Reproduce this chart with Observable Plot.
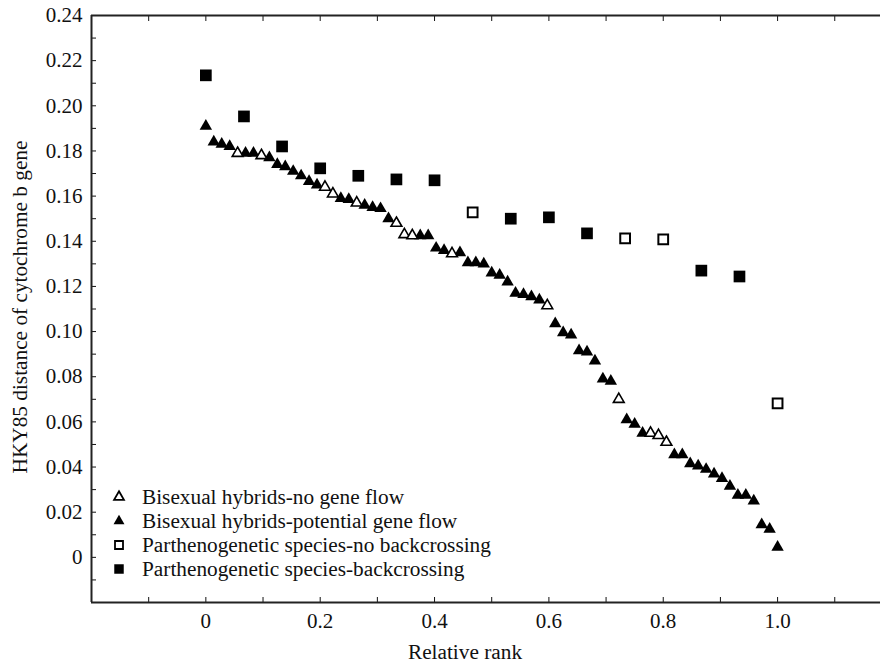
<!DOCTYPE html>
<html>
<head>
<meta charset="utf-8">
<script src="https://cdn.jsdelivr.net/npm/d3@7"></script>
<script src="https://cdn.jsdelivr.net/npm/@observablehq/plot@0.6"></script>
<style>
  html, body { margin: 0; padding: 0; background: #fff; overflow: hidden; }
  #chart { position: relative; width: 880px; height: 664px; font-family: "Liberation Serif", "Times New Roman", serif; color: #111; }
  #legend { position: absolute; left: 108px; top: 485px; font-size: 21.3px; line-height: 24px; }
  .row { display: flex; align-items: center; height: 24px; white-space: nowrap; }
  .row svg { width: 22px; height: 24px; margin-right: 12px; flex: none; }
  .title { position: absolute; font-size: 21.3px; line-height: 22px; white-space: nowrap; }
  #xtitle { left: 465px; top: 641px; transform: translateX(-50%); }
  #ytitle { left: 20px; top: 307px; transform: translate(-50%, -50%) rotate(-90deg); }
</style>
</head>
<body>
<div id="chart">
  <div id="legend"></div>
  <div class="title" id="xtitle"></div>
  <div class="title" id="ytitle"></div>
</div>
<script>
// Bisexual hybrids: rank position (0-based, among all 73 hybrids) and HKY85 distance
const flowRank = [0, 1, 2, 3, 5, 6, 8, 9, 10, 11, 12, 13, 14, 17, 18, 20, 21, 22, 23,
  27, 28, 29, 30, 32, 33, 34, 35, 36, 37, 38, 39, 40, 41, 42, 44, 45, 46, 47, 48, 49, 50, 51,
  53, 54, 55, 59, 60, 61, 62, 63, 64, 65, 66, 67, 68, 69, 70, 71, 72];
const flowDist = [0.191, 0.184, 0.183, 0.182, 0.179, 0.179, 0.177, 0.174, 0.173, 0.171, 0.169, 0.1665, 0.165,
  0.159, 0.1585, 0.156, 0.155, 0.1545, 0.150,
  0.1425, 0.1425, 0.137, 0.136, 0.135, 0.1305, 0.1305, 0.130, 0.126, 0.125, 0.122, 0.117, 0.1165, 0.1155, 0.114,
  0.1035, 0.0995, 0.0985, 0.0915, 0.091, 0.087, 0.079, 0.078,
  0.061, 0.059, 0.055, 0.0455, 0.0455, 0.0415, 0.0405, 0.039, 0.037, 0.035, 0.0315, 0.0275, 0.0275, 0.025,
  0.0145, 0.0125, 0.0045];
const noFlowRank = [4, 7, 15, 16, 19, 24, 25, 26, 31, 43, 52, 56, 57, 58];
const noFlowDist = [0.179, 0.178, 0.164, 0.161, 0.157, 0.148, 0.143, 0.1425, 0.1345, 0.1115, 0.070, 0.055, 0.054, 0.051];

// Parthenogenetic species: rank position (0-based, among all 16 species) and distance
const backRank = [0, 1, 2, 3, 4, 5, 6, 8, 9, 10, 13, 14];
const backDist = [0.2135, 0.1953, 0.182, 0.1723, 0.169, 0.1674, 0.167, 0.150, 0.1506, 0.1435, 0.127, 0.1244];
const noBackRank = [7, 11, 12, 15];
const noBackDist = [0.1528, 0.1413, 0.1408, 0.0682];

// Axis ticks
const yLabelTicks = [0, 0.02, 0.04, 0.06, 0.08, 0.10, 0.12, 0.14, 0.16, 0.18, 0.20, 0.22, 0.24];
const yMinorTicks = [-0.01, 0.01, 0.03, 0.05, 0.07, 0.09, 0.11, 0.13, 0.15, 0.17, 0.19, 0.21, 0.23];
const xLabelTicks = [0, 0.2, 0.4, 0.6, 0.8, 1.0];
const xMinorTicks = [-0.1, 0.1, 0.3, 0.5, 0.7, 0.9, 1.1];

const xTitle = "Relative rank";
const yTitle = "HKY85 distance of cytochrome b gene";
const legendLabels = [
  "Bisexual hybrids-no gene flow",
  "Bisexual hybrids-potential gene flow",
  "Parthenogenetic species-no backcrossing",
  "Parthenogenetic species-backcrossing"
];

const nHybrids = flowRank.length + noFlowRank.length;
const nSpecies = backRank.length + noBackRank.length;
const toRows = (ranks, dists, n) => ranks.map((r, i) => ({rank: r / (n - 1), dist: dists[i]}));

const flow = toRows(flowRank, flowDist, nHybrids);
const noFlow = toRows(noFlowRank, noFlowDist, nHybrids);
const back = toRows(backRank, backDist, nSpecies);
const noBack = toRows(noBackRank, noBackDist, nSpecies);

const fmtY = d => d === 0 ? "0" : d.toFixed(2);
const fmtX = d => d === 0 ? "0" : d.toFixed(1);
const ink = "#111";

const chart = Plot.plot({
  width: 880,
  height: 664,
  marginLeft: 91,
  marginRight: 0,
  marginTop: 15,
  marginBottom: 62,
  style: {fontFamily: "'Liberation Serif', 'Times New Roman', serif", fontSize: "21px", color: ink, background: "white"},
  x: {domain: [-0.2, 1.18]},
  y: {domain: [-0.02, 0.24]},
  marks: [
    Plot.axisY(yLabelTicks, {anchor: "left", tickSize: -5, tickPadding: 14, tickFormat: fmtY, label: null}),
    Plot.axisY(yMinorTicks, {anchor: "left", tickSize: -5, tickFormat: () => "", label: null}),
    Plot.axisX(xLabelTicks, {anchor: "bottom", tickSize: -5, tickPadding: 16, tickFormat: fmtX, label: null}),
    Plot.axisX(xMinorTicks, {anchor: "bottom", tickSize: -5, tickFormat: () => "", label: null}),
    Plot.axisX([...xMinorTicks, ...xLabelTicks], {anchor: "top", tickSize: -5, tickFormat: () => "", label: null}),
    Plot.ruleX([-0.2], {stroke: "#222", strokeWidth: 2}),
    Plot.ruleY([-0.02, 0.24], {stroke: "#222", strokeWidth: 2}),
    Plot.dot(flow, {x: "rank", y: "dist", symbol: "triangle", r: 4.6, fill: "#000", stroke: null}),
    Plot.dot(noFlow, {x: "rank", y: "dist", symbol: "triangle", r: 4.0, fill: "#fff", stroke: "#000", strokeWidth: 1.6}),
    Plot.dot(back, {x: "rank", y: "dist", symbol: "square", r: 6.6, fill: "#000", stroke: null}),
    Plot.dot(noBack, {x: "rank", y: "dist", symbol: "square", r: 5.5, fill: "#fff", stroke: "#000", strokeWidth: 2})
  ]
});
document.getElementById("chart").prepend(chart);

document.getElementById("xtitle").textContent = xTitle;
document.getElementById("ytitle").textContent = yTitle;

// Legend: symbol swatch followed by its label
const legendSymbols = [
  {type: d3.symbolTriangle, size: 42, fill: "#fff", stroke: "#000"},
  {type: d3.symbolTriangle, size: 52, fill: "#000", stroke: null},
  {type: d3.symbolSquare, size: 64, fill: "#fff", stroke: "#000"},
  {type: d3.symbolSquare, size: 90, fill: "#000", stroke: null}
];
const legend = d3.select("#legend");
legendLabels.forEach((label, i) => {
  const s = legendSymbols[i];
  const row = legend.append("div").attr("class", "row");
  const svg = row.append("svg").attr("viewBox", "-11 -12 22 24");
  svg.append("path")
    .attr("d", d3.symbol(s.type, s.size)())
    .attr("fill", s.fill)
    .attr("stroke", s.stroke)
    .attr("stroke-width", 1.8);
  row.append("span").text(label);
});
</script>
</body>
</html>
